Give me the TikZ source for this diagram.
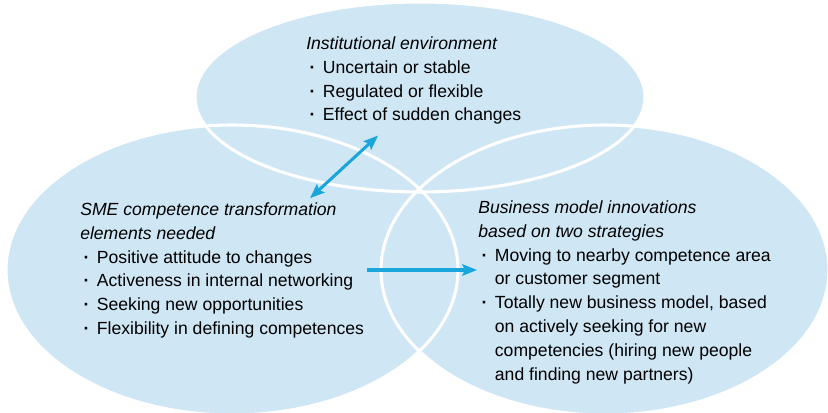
\documentclass[tikz,border=0pt]{standalone}
\usepackage{fontspec}
\setmainfont{Liberation Sans}
\usetikzlibrary{arrows.meta}
\definecolor{vennblue}{RGB}{207,230,244}
\definecolor{linkblue}{RGB}{27,166,219}
\newcommand{\bul}{\hspace*{2.5pt}\makebox[10pt][l]{\bfseries ·}}
\newcommand{\cont}{\hspace*{12.5pt}}
\newcommand{\firstline}{\rule{0pt}{10pt}}

\begin{document}
\begin{tikzpicture}[x=0.75pt,y=-0.75pt,
  venn/.style={fill=vennblue},
  rim/.style={draw=white,line width=2.3pt},
  link/.style={draw=linkblue,line width=2.3pt,-{Stealth[length=11pt,width=8.5pt,inset=2pt]}},
  dlink/.style={link,{Stealth[length=11pt,width=8.5pt,inset=2pt]}-{Stealth[length=11pt,width=8.5pt,inset=2pt]}},
  txt/.style={anchor=north west,inner sep=0pt,align=left,font=\fontsize{13.2}{17.9}\selectfont}]
  \useasboundingbox (0,0) rectangle (828,413);
  \coordinate (envc) at (420,97);
  \coordinate (smec) at (232,270);
  \coordinate (bmic) at (605,270);
  \foreach \c/\rx/\ry in {envc/225/95, smec/226/145, bmic/224/145}
    \fill[venn] (\c) ellipse [x radius=\rx, y radius=\ry];
  \foreach \c/\rx/\ry in {envc/225/95, smec/226/145, bmic/224/145}
    \draw[rim] (\c) ellipse [x radius=\rx, y radius=\ry];

  \node (envtext) [txt] at (306,35.7) {\firstline\textit{Institutional environment}\\
    \bul Uncertain or stable\\
    \bul Regulated or flexible\\
    \bul Effect of sudden changes};
  \node (smetext) [txt] at (80,201.7) {\firstline\textit{SME competence transformation}\\
    \textit{elements needed}\\
    \bul Positive attitude to changes\\
    \bul Activeness in internal networking\\
    \bul Seeking new opportunities\\
    \bul Flexibility in defining competences};
  \node (bmitext) [txt] at (478,199.7) {\firstline\textit{Business model innovations}\\
    \textit{based on two strategies}\\
    \bul Moving to nearby competence area\\
    \cont or customer segment\\
    \bul Totally new business model, based\\
    \cont on actively seeking for new\\
    \cont competencies (hiring new people\\
    \cont and finding new partners)};

  \draw[dlink, shorten <=42.7pt, shorten >=79.5pt] (envc) -- (smec);
  \draw[link, shorten <=101pt, shorten >=96pt] (smec) -- (bmic);
\end{tikzpicture}
\end{document}
